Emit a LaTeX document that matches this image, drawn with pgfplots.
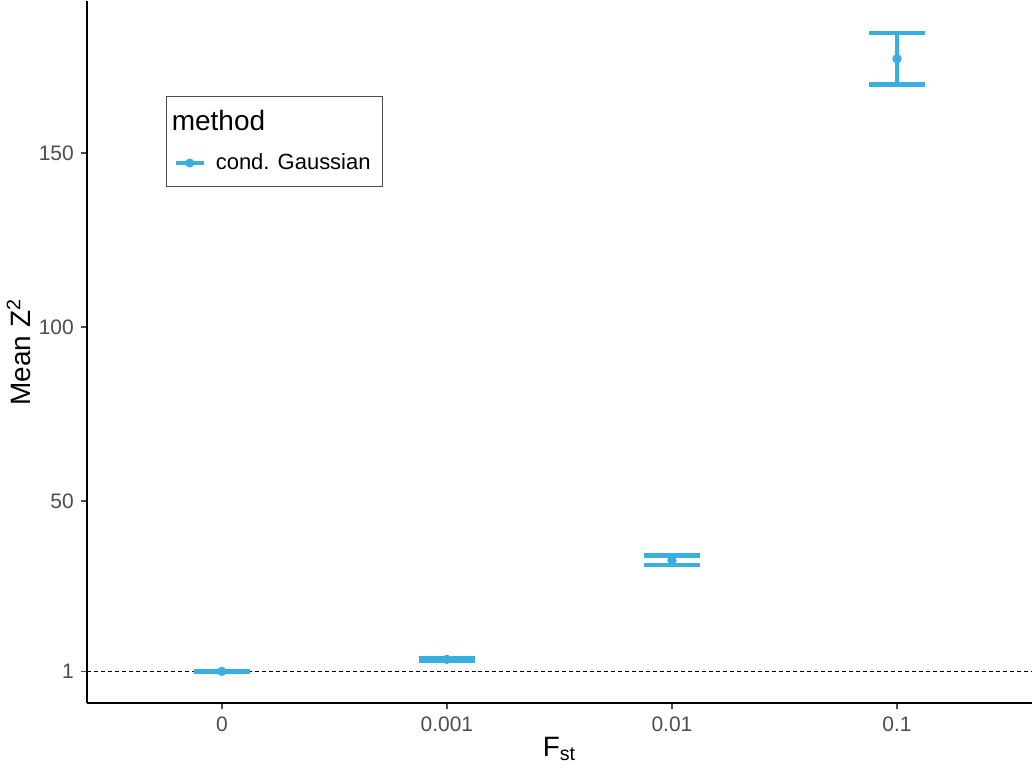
\documentclass[border=0pt]{standalone}
\usepackage{pgfplots}
\pgfplotsset{compat=1.18}
\usepackage{fontspec}
\setmainfont{Liberation Sans}
\definecolor{cblue}{RGB}{57,174,224}
\definecolor{tickgrey}{RGB}{77,77,77}

\pgfplotstableread{
x    y      err
1    1.00   0.05
2    4.45   0.30
3    32.9   1.40
4    177.1  7.35
}\zdata

\begin{document}
\begin{tikzpicture}
\begin{axis}[
    scale only axis,
    width=473pt, height=351.5pt,
    xmin=0.4, xmax=4.6,
    ymin=-8.2, ymax=193.7,
    axis lines=left,
    axis line style={-, line width=1pt, black},
    xtick={1,2,3,4},
    xticklabels={0, 0.001, 0.01, 0.1},
    ytick={1,50,100,150},
    tick align=outside,
    major tick length=3pt,
    tick style={line width=0.8pt, tickgrey},
    ticklabel style={font=\fontsize{10.5}{12}\selectfont, text=tickgrey},
    /pgf/number format/assume math mode=true,
    xlabel={F\textsubscript{st}},
    ylabel={Mean Z\textsuperscript{2}},
    label style={font=\fontsize{14}{16}\selectfont},
    xlabel style={yshift=4pt},
    ylabel style={yshift=-3pt},
    clip=false,
    legend cell align=left,
    legend style={
        at={(rel axis cs:0.0835,0.865)}, anchor=north west,
        draw=black!70, line width=0.5pt,
        font=\fontsize{11}{13}\selectfont,
        inner xsep=4pt, inner ysep=5pt,
        row sep=6pt,
    },
]
% reference line at 1
\addplot[black, line width=0.5pt, dash pattern=on 2pt off 1.5pt, forget plot]
    coordinates {(0.4,1) (4.6,1)};

% error bars
\addplot[
    only marks, mark=none, color=cblue, forget plot,
    error bars/.cd,
        y dir=both, y explicit,
        error bar style={line width=2.2pt, cblue},
        error mark options={line width=2.2pt, cblue, mark size=14pt, rotate=90},
    ]
    table[x=x, y=y, y error=err] {\zdata};

\addlegendimage{empty legend}
\addlegendentry{\hspace*{-22pt}\fontsize{14}{16}\selectfont method}

% points on top
\addplot[
    only marks, mark=*, mark size=2.1pt, color=cblue,
    legend image code/.code={
        \path[draw=none, fill=none] (0pt,0pt) rectangle (18pt,0pt);
        \draw[cblue, line width=1.6pt] (0pt,0pt) -- (14pt,0pt);
        \fill[cblue] (7pt,0pt) circle (2pt);},
    ]
    table[x=x, y=y] {\zdata};
\addlegendentry{cond. Gaussian}
\end{axis}
\end{tikzpicture}
\end{document}
